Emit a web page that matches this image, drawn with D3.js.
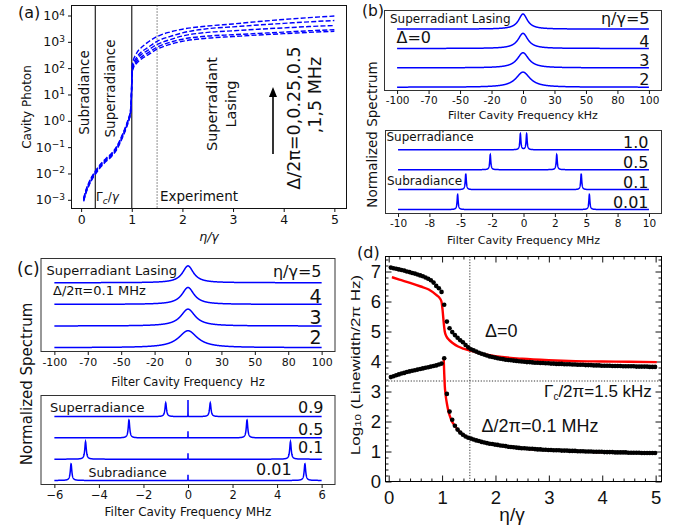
<!DOCTYPE html>
<html><head><meta charset="utf-8">
<script src="https://cdn.jsdelivr.net/npm/d3@7"></script>
<style>body{margin:0;background:#fff}svg{display:block}</style>
</head><body>
<svg id="fig" width="695" height="525"></svg>
<script>
// ---------------- data ----------------
// (a) cavity photon number (log10) versus pump η/γ for Δ/2π = 0, 0.25, 0.5, 1, 5 MHz
const etaA = [0.05,0.1,0.15,0.2,0.28,0.4,0.5,0.6,0.7,0.8,0.9,0.95,0.97,0.99,1.0,1.01,1.03,1.07,1.13,1.2,1.3,1.5,1.75,2,2.5,3,3.5,4,4.5,5];
const photonD0   = [-3.06,-2.72,-2.48,-2.28,-2.03,-1.73,-1.53,-1.36,-1.1,-0.71,-0.23,0.06,0.2,0.7,1.3,1.85,2.0,2.12,2.25,2.36,2.48,2.72,2.9,3.02,3.14,3.2,3.26,3.31,3.36,3.40];
const photonD025 = [-3.03,-2.69,-2.45,-2.25,-2.0,-1.7,-1.5,-1.33,-1.07,-0.68,-0.2,0.09,0.23,0.75,1.35,1.9,2.05,2.18,2.33,2.44,2.56,2.8,2.98,3.1,3.22,3.27,3.32,3.37,3.42,3.46];
const photonD05  = [-3.0,-2.66,-2.42,-2.22,-1.97,-1.67,-1.47,-1.3,-1.04,-0.65,-0.17,0.12,0.26,0.8,1.4,1.95,2.1,2.25,2.42,2.54,2.66,2.9,3.08,3.22,3.36,3.42,3.48,3.53,3.58,3.62];
const photonD1   = [-2.97,-2.63,-2.39,-2.19,-1.94,-1.64,-1.44,-1.27,-1.01,-0.62,-0.14,0.15,0.29,0.85,1.45,2.0,2.18,2.33,2.5,2.63,2.76,3.02,3.2,3.34,3.5,3.57,3.64,3.70,3.76,3.81];
const photonD5   = [-2.94,-2.6,-2.36,-2.16,-1.91,-1.61,-1.41,-1.24,-0.98,-0.59,-0.11,0.18,0.32,0.9,1.55,2.1,2.3,2.48,2.67,2.8,2.96,3.2,3.37,3.48,3.6,3.68,3.77,3.85,3.92,3.98];
const photonSeries = [photonD0, photonD025, photonD05, photonD1, photonD5];
const photonTicks = [-3,-2,-1,0,1,2,3,4];
const regionLines = [0.28, 1.0];     // Γc/γ and η/γ = 1
const experimentLine = 1.5;

// (b),(c) upper: lasing spectra, traces from top to bottom
const lasingLabels = ["η/γ=5", "4", "3", "2"];
const lasingWidthKHz = [8.5, 9.5, 11, 13.5];   // Δ = 0, kHz
const lasingWidthHz  = [10, 11, 13, 17];       // Δ/2π = 0.1 MHz, Hz
const lasingHeight = 0.78;
const khzTicks = [-100,-75,-50,-25,0,25,50,75,100];
const khzTickLabels = ["-100","-70","-50","-20","0","30","50","80","100"];

// (b) lower: Δ = 0, sub/superradiant sidebands (MHz)
const lowLabelsB = ["1.0","0.5","0.1","0.01"];
const sidebandB = [0.25, 2.65, 4.6, 5.25];
const sidebandWidthB = 0.1;
const sidebandHeightB = [0.8, 0.76, 0.8, 0.75];
const mhzTicksB = [-10,-7.5,-5,-2.5,0,2.5,5,7.5,10];
const mhzTickLabelsB = ["-10","-8","-5","-2","0","2","5","8","10"];

// (c) lower: Δ/2π = 0.1 MHz sidebands and carrier (MHz)
const lowLabelsC = ["0.9","0.5","0.1","0.01"];
const sidebandC = [1.0, 2.65, 4.6, 5.25];
const sidebandWidthC = 0.08;
const sidebandHeightC = [0.64, 0.84, 0.82, 0.78];
const carrierHeightC = [0.78, 0.31, 0.28, 0.27];
const mhzTicksC = [-6,-4,-2,0,2,4,6];

// (d) log10 linewidth; numerics sampled at η/γ = 0.04 + 0.05k
const etaD = d3.range(100).map(k => +(0.04 + 0.05 * k).toFixed(2));
const linewidthD0 = [7.13,7.11,7.09,7.07,7.05,7.03,7.00,6.98,6.95,6.93,6.90,6.87,6.84,6.80,6.76,6.71,6.63,6.52,6.44,6.32,
  5.89,5.33,5.11,4.98,4.88,4.79,4.71,4.64,4.55,4.47,4.41,4.37,4.33,4.29,4.26,4.23,4.20,4.17,4.15,4.13,
  4.11,4.09,4.08,4.06,4.05,4.04,4.03,4.02,4.01,4.00,3.99,3.98,3.98,3.97,3.96,3.96,3.95,3.95,3.94,3.94,
  3.93,3.93,3.92,3.92,3.92,3.91,3.91,3.91,3.90,3.90,3.89,3.89,3.89,3.88,3.88,3.88,3.87,3.87,3.87,3.86,
  3.86,3.86,3.86,3.85,3.85,3.85,3.85,3.84,3.84,3.84,3.84,3.84,3.83,3.83,3.83,3.83,3.83,3.82,3.82,3.82];
const linewidthD01 = [3.48,3.51,3.54,3.57,3.60,3.62,3.65,3.67,3.69,3.71,3.73,3.75,3.77,3.79,3.81,3.83,3.85,3.87,3.90,3.93,
  4.11,2.92,2.33,2.06,1.86,1.73,1.63,1.56,1.50,1.46,1.43,1.40,1.37,1.35,1.32,1.30,1.28,1.26,1.25,1.23,
  1.22,1.20,1.19,1.18,1.16,1.15,1.14,1.13,1.12,1.11,1.11,1.10,1.09,1.09,1.08,1.07,1.07,1.06,1.06,1.05,
  1.05,1.04,1.04,1.04,1.03,1.03,1.03,1.02,1.02,1.02,1.01,1.01,1.01,1.00,1.00,1.00,0.99,0.99,0.99,0.99,
  0.98,0.98,0.98,0.98,0.97,0.97,0.97,0.97,0.97,0.96,0.96,0.96,0.96,0.96,0.95,0.95,0.95,0.95,0.95,0.95];
const theoryD0 = [[0.06,6.81],[0.2,6.73],[0.4,6.62],[0.6,6.5],[0.75,6.4],[0.89,6.22],[0.96,6.1],[0.99,5.98],[1.01,5.7],
  [1.03,5.3],[1.05,5.0],[1.08,4.84],[1.13,4.72],[1.21,4.6],[1.3,4.5],[1.4,4.43],[1.53,4.36],[1.7,4.28],[2.0,4.18],
  [2.5,4.09],[3.0,4.04],[3.5,4.01],[4.0,4.0],[4.5,3.99],[5.02,3.98]];
const theoryD01 = [[1.03,4.12],[1.04,3.6],[1.05,3.2],[1.065,2.9],[1.09,2.6],[1.12,2.33],[1.17,2.06],[1.25,1.83],[1.35,1.62],
  [1.5,1.46],[1.7,1.34],[2,1.23],[2.5,1.11],[3,1.05],[3.5,1.02],[4,0.98],[4.5,0.96],[5,0.95]];
const cavityLine = 3.35;   // Γc/2π = 1.5 kHz
const experimentLineD = 1.52;

// ---------------- drawing ----------------
const svg = d3.select("#fig");
const MPL = "'DejaVu Sans', sans-serif";
const ARIAL = "'Liberation Sans', Arial, sans-serif";
const BLUE = "#0000ff";
const INK = "#111";

function frame(x0, y0, x1, y1, color) {
  svg.append("rect").attr("x", x0).attr("y", y0).attr("width", x1 - x0).attr("height", y1 - y0)
    .attr("fill", "none").attr("stroke", color || INK).attr("stroke-width", 1);
}
function label(x, y, str, size, opts = {}) {
  return svg.append("text").attr("x", x).attr("y", y)
    .attr("font-family", opts.family || MPL).attr("font-size", size)
    .attr("text-anchor", opts.anchor || "start").attr("fill", INK)
    .attr("font-style", opts.italic ? "italic" : null)
    .attr("dominant-baseline", opts.central ? "central" : null)
    .attr("xml:space", "preserve")
    .text(str);
}
function vlabel(x, y, str, size, family) {
  return svg.append("text").attr("transform", `translate(${x},${y}) rotate(-90)`)
    .attr("text-anchor", "middle").attr("dominant-baseline", "central")
    .attr("font-family", family || MPL).attr("font-size", size).attr("fill", INK).text(str);
}
function styleAxis(g, size, family) {
  g.select(".domain").remove();
  g.selectAll(".tick line").attr("stroke", INK);
  g.selectAll(".tick text").attr("font-family", family || MPL).attr("font-size", size).attr("fill", INK);
}

// -------- (a) --------
const xA = d3.scaleLinear().domain([-0.19, 5.24]).range([71.5, 346.5]);
const yA = d3.scaleLog().domain([10 ** -3.33, 10 ** 4.38]).range([208.5, 5.5]);
frame(71.5, 5.5, 346.5, 208.5);
const gxA = svg.append("g").attr("transform", "translate(0,208.5)")
  .call(d3.axisBottom(xA).tickValues([0,1,2,3,4,5]).tickSize(3.5).tickPadding(3.5).tickFormat(d3.format("d")));
styleAxis(gxA, 12.5);
const gyA = svg.append("g").attr("transform", "translate(71.5,0)")
  .call(d3.axisLeft(yA).tickValues(photonTicks.map(p => 10 ** p)).tickSize(3.5).tickPadding(3));
styleAxis(gyA, 12.5);
gyA.selectAll(".tick text").each(function (d, i) {
  const t = d3.select(this).text("10");
  t.append("tspan").attr("dy", "-0.5em").attr("font-size", "0.72em")
    .text(String(photonTicks[i]).replace("-", "\u2212"));
});
regionLines.forEach(v => svg.append("line").attr("x1", xA(v)).attr("x2", xA(v)).attr("y1", 5.5).attr("y2", 208.5)
  .attr("stroke", "#222").attr("stroke-width", 1.2));
svg.append("line").attr("x1", xA(experimentLine)).attr("x2", xA(experimentLine)).attr("y1", 5.5).attr("y2", 208.5)
  .attr("stroke", "#222").attr("stroke-width", 1).attr("stroke-dasharray", "1,2");
const lineA = d3.line().x((d, i) => xA(etaA[i])).y(d => yA(10 ** d)).curve(d3.curveMonotoneX);
photonSeries.forEach(s => svg.append("path").attr("d", lineA(s)).attr("fill", "none")
  .attr("stroke", BLUE).attr("stroke-width", 1.4).attr("stroke-dasharray", "5,2.2"));
vlabel(27, 107, "Cavity Photon", 12);
label(209, 236, "η/γ", 12.5, {anchor: "middle", italic: true, central: true});
vlabel(84, 92.5, "Subradiance", 13.5);
vlabel(110, 88.5, "Superradiance", 13.5);
vlabel(211.5, 104, "Superradiant", 14.5);
vlabel(231, 104, "Lasing", 14.5);
vlabel(293.5, 118, "Δ/2π=0,0.25,0.5", 17.5);
vlabel(315, 95, ",1,5 MHz", 17.5);
svg.append("line").attr("x1", 273).attr("x2", 273).attr("y1", 154).attr("y2", 95).attr("stroke", "#000").attr("stroke-width", 1.6);
svg.append("path").attr("d", "M273,87 L269,97 L277,97 Z").attr("fill", "#000");
const gc = svg.append("text").attr("x", 96).attr("y", 201).attr("font-family", MPL).attr("font-size", 12).attr("fill", INK);
gc.append("tspan").text("Γ");
gc.append("tspan").attr("dy", 2.5).attr("font-size", 9).attr("font-style", "italic").text("c");
gc.append("tspan").attr("dy", -2.5).text("/");
gc.append("tspan").attr("font-style", "italic").text("γ");
label(160, 201, "Experiment", 13.5);
label(18, 18, "(a)", 16);

// -------- spectrum helper --------
function trace(peaks, offset, x0, x1) {
  let xs = d3.range(x0, x1, (x1 - x0) / 1500).concat([x1]);
  peaks.forEach(p => { for (let k = -60; k <= 60; k++) xs.push(p.c + k * p.w / 10); });
  xs = xs.filter(x => x >= x0 && x <= x1).sort((a, b) => a - b);
  return xs.map(x => [x, offset + d3.sum(peaks, p => p.h / (1 + ((x - p.c) / (p.w / 2)) ** 2))]);
}
function spectrumPanel(box, xDomain, yDomain, traces, xr, ticks, tickLabels, tickSize, title, titleY) {
  const x = d3.scaleLinear().domain(xDomain).range([box.l, box.r]);
  const y = d3.scaleLinear().domain(yDomain).range([box.b, box.t]);
  frame(box.l, box.t, box.r, box.b, "#333");
  const g = svg.append("g").attr("transform", `translate(0,${box.b})`)
    .call(d3.axisBottom(x).tickValues(ticks).tickSize(3.5).tickPadding(3)
      .tickFormat((d, i) => tickLabels ? tickLabels[i] : d3.format("d")(d)));
  styleAxis(g, tickSize);
  const ln = d3.line().x(d => x(d[0])).y(d => y(d[1]));
  traces.forEach((peaks, i) => svg.append("path").attr("d", ln(trace(peaks, traces.length - 1 - i, xr[0], xr[1])))
    .attr("fill", "none").attr("stroke", BLUE).attr("stroke-width", 1.5));
  label((box.l + box.r) / 2, titleY, title, tickSize + 0.5, {anchor: "middle", central: true});
  return {x, y};
}

// -------- (b) --------
spectrumPanel({l: 384.5, r: 661.5, t: 10.5, b: 90.5}, [-110, 110], [-0.17, 3.96],
  lasingWidthKHz.map(w => [{c: 0, w: w, h: lasingHeight}]), [-100, 100],
  khzTicks, khzTickLabels, 10.5, "Filter Cavity Frequency kHz", 115.5);
label(390, 22.8, "Superradiant Lasing", 12);
label(396.5, 43.3, "Δ=0", 16);
[24, 46.7, 66, 85].forEach((yy, i) => label(649.5, yy, lasingLabels[i], 16, {anchor: "end"}));
spectrumPanel({l: 385.5, r: 661.5, t: 130.5, b: 213.5}, [-11, 11], [-0.2, 3.97],
  sidebandB.map((c, i) => [{c: -c, w: sidebandWidthB, h: sidebandHeightB[i]}, {c: c, w: sidebandWidthB, h: sidebandHeightB[i]}]),
  [-10, 10], mhzTicksB, mhzTickLabelsB, 10.5, "Filter Cavity Frequency MHz", 240);
label(386.5, 141, "Superradiance", 12);
label(387, 185, "Subradiance", 12);
[148.3, 168.3, 188.3, 208.3].forEach((yy, i) => label(648.5, yy, lowLabelsB[i], 16, {anchor: "end"}));
vlabel(372, 134.5, "Normalized Spectrum", 13.5);
label(362, 15.5, "(b)", 15.5);

// -------- (c) --------
spectrumPanel({l: 41, r: 335, t: 258.5, b: 351.5}, [-110, 110], [-0.18, 4.12],
  lasingWidthHz.map(w => [{c: 0, w: w, h: lasingHeight}]), [-100, 100],
  khzTicks, khzTickLabels, 11, "Filter Cavity Frequency\u00a0 Hz", 381.5);
label(46.5, 275, "Superradiant Lasing", 13);
label(53, 295, "Δ/2π=0.1 MHz", 13);
label(321.5, 277.3, lasingLabels[0], 16, {anchor: "end"});
[303.3, 324.3, 344.3].forEach((yy, i) => label(321.5, yy, lasingLabels[i + 1], 19, {anchor: "end"}));
spectrumPanel({l: 41, r: 335, t: 395.5, b: 484.5}, [-6.6, 6.6], [-0.19, 3.99],
  sidebandC.map((c, i) => [{c: -c, w: sidebandWidthC, h: sidebandHeightC[i]}, {c: c, w: sidebandWidthC, h: sidebandHeightC[i]},
    {c: 0, w: 0.004, h: carrierHeightC[i]}]),
  [-6, 6], mhzTicksC, null, 11.5, "Filter Cavity Frequency MHz", 511.5);
label(50, 411.7, "Superradiance", 13);
label(88.5, 476.7, "Subradiance", 12.5);
[413.3, 435, 453.3].forEach((yy, i) => label(323.5, yy, lowLabelsC[i], 16, {anchor: "end"}));
label(291.7, 475, lowLabelsC[3], 16, {anchor: "end"});
vlabel(27, 384, "Normalized Spectrum", 15);
label(17, 275, "(c)", 17);

// -------- (d) --------
const xD = d3.scaleLinear().domain([-0.06, 5.11]).range([385.5, 661.5]);
const yD = d3.scaleLinear().domain([0, 7.5]).range([481.5, 256.5]);
const minorX = d3.range(0, 5.11, 0.2).filter(v => Math.abs(v - Math.round(v)) > 1e-6);
const minorY = d3.range(0, 7.5, 0.2).filter(v => Math.abs(v - Math.round(v)) > 1e-6);
[[d3.axisBottom, xD, "0,481.5", minorX, [0,1,2,3,4,5], true],
 [d3.axisTop, xD, "0,256.5", minorX, [0,1,2,3,4,5], false],
 [d3.axisLeft, yD, "385.5,0", minorY, [0,1,2,3,4,5,6,7], true],
 [d3.axisRight, yD, "661.5,0", minorY, [0,1,2,3,4,5,6,7], false]].forEach(([fn, sc, tr, minor, major, lab]) => {
  const gm = svg.append("g").attr("transform", `translate(${tr})`)
    .call(fn(sc).tickValues(minor).tickSize(-3).tickFormat(""));
  styleAxis(gm, 18, ARIAL);
  const isX = fn === d3.axisBottom || fn === d3.axisTop;
  const gM = svg.append("g").attr("transform", `translate(${tr})`)
    .call(fn(sc).tickValues(major).tickSize(-6).tickPadding(isX ? 9 : 4.5).tickFormat(lab ? d3.format("d") : ""));
  styleAxis(gM, 18.5, ARIAL);
});
frame(385.5, 256.5, 661.5, 481.5, "#000");
svg.append("line").attr("x1", xD(experimentLineD)).attr("x2", xD(experimentLineD)).attr("y1", 256.5).attr("y2", 481.5)
  .attr("stroke", "#333").attr("stroke-width", 1).attr("stroke-dasharray", "1.2,1.6");
svg.append("line").attr("x1", 385.5).attr("x2", 661.5).attr("y1", yD(cavityLine)).attr("y2", yD(cavityLine))
  .attr("stroke", "#333").attr("stroke-width", 1).attr("stroke-dasharray", "1.2,1.6");
const lineD = d3.line().x(d => xD(d[0])).y(d => yD(d[1])).curve(d3.curveMonotoneX);
[theoryD0, theoryD01].forEach(s => svg.append("path").attr("d", lineD(s)).attr("fill", "none")
  .attr("stroke", "#ff0000").attr("stroke-width", 2.4));
[linewidthD0, linewidthD01].forEach(s => svg.append("g").selectAll("circle").data(s).join("circle")
  .attr("cx", (d, i) => xD(etaD[i])).attr("cy", d => yD(d)).attr("r", 2.3).attr("fill", "#000"));
label(485, 336.5, "Δ=0", 18, {family: ARIAL});
label(481.5, 431.7, "Δ/2π=0.1 MHz", 18, {family: ARIAL});
const gl = svg.append("text").attr("x", 544).attr("y", 397).attr("font-family", ARIAL).attr("font-size", 17).attr("fill", INK);
gl.append("tspan").text("Γ");
gl.append("tspan").attr("dy", 3).attr("font-size", 10).text("c");
gl.append("tspan").attr("dy", -3).text("/2π=1.5 kHz");
label(512, 514, "η/γ", 19, {family: ARIAL, anchor: "middle", central: true});
// y title: glyphs drawn elongated along the text direction
const yl = svg.append("text").attr("transform", "translate(355,365) rotate(-90) scale(1.36,1)").attr("text-anchor", "middle")
  .attr("dominant-baseline", "central").attr("font-family", ARIAL).attr("font-size", 12.5).attr("fill", INK);
yl.append("tspan").text("Log");
yl.append("tspan").attr("dy", 3).attr("font-size", 8.5).text("10");
yl.append("tspan").attr("dy", -3).text(" (Linewidth/2π Hz)");
label(357, 258, "(d)", 16);
</script>
</body></html>
